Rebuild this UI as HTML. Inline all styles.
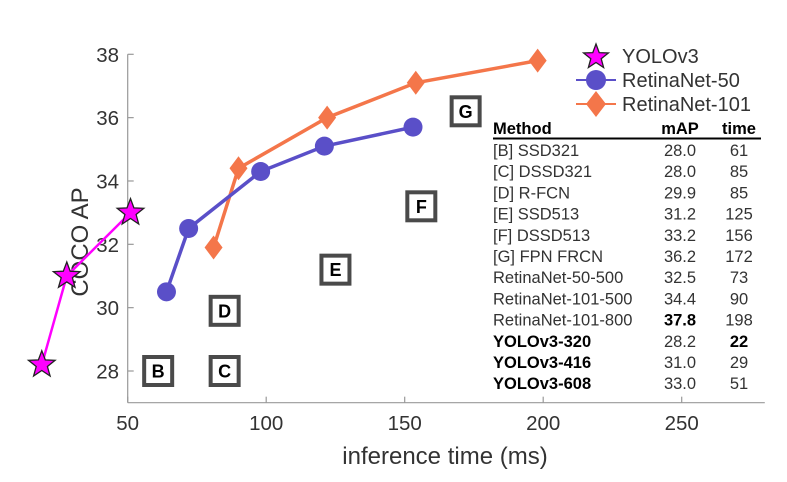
<!DOCTYPE html>
<html><head><meta charset="utf-8"><style>
html,body{margin:0;padding:0;background:#fff;}
svg text{font-family:"Liberation Sans",Arial,sans-serif;}
</style></head><body>
<svg id="chart" width="787" height="477" viewBox="0 0 787 477" xmlns="http://www.w3.org/2000/svg">
<g id="axes"></g>
<g id="boxes"></g>
<g id="series"></g>
<g id="legend"></g>
<g id="table"></g>
</svg>
<script>
const xTicks=[50,100,150,200,250];
const yTicks=[28,30,32,34,36,38];
const yoloTime=[19,28,51];
const yoloAP=[28.2,31.0,33.0];
const r50Time=[64,72,98,121,153];
const r50AP=[30.5,32.5,34.3,35.1,35.7];
const r101Time=[81,90,122,154,198];
const r101AP=[31.9,34.4,36.0,37.1,37.8];
const boxLabels=["B","C","D","E","F","G"];
const boxTime=[61,85,85,125,156,172];
const boxAP=[28.0,28.0,29.9,31.2,33.2,36.2];
const tableMethods=["[B] SSD321","[C] DSSD321","[D] R-FCN","[E] SSD513","[F] DSSD513","[G] FPN FRCN","RetinaNet-50-500","RetinaNet-101-500","RetinaNet-101-800","YOLOv3-320","YOLOv3-416","YOLOv3-608"];
const tableMAP=["28.0","28.0","29.9","31.2","33.2","36.2","32.5","34.4","37.8","28.2","31.0","33.0"];
const tableTime=["61","85","85","125","156","172","73","90","198","22","29","51"];

const NS="http://www.w3.org/2000/svg";
const X=v=>127.7+(v-50)*2.77;
const Y=v=>371-(v-28)*31.67;
function mk(tag,attrs,parent,txt){const e=document.createElementNS(NS,tag);for(const k in attrs)e.setAttribute(k,attrs[k]);if(txt!==undefined)e.textContent=txt;parent.appendChild(e);return e;}
const axes=document.getElementById('axes');
let e;
e=mk('line',{x1:X(50),y1:Y(27),x2:X(280),y2:Y(27),stroke:'#999','stroke-width':1.2},axes);

e=mk('line',{x1:X(50),y1:Y(27),x2:X(50),y2:Y(38),stroke:'#999','stroke-width':1.2},axes);

xTicks.forEach(t=>{
 mk('line',{x1:X(t),y1:Y(27),x2:X(t),y2:Y(27)-6,stroke:'#999','stroke-width':1.2},axes);
 e=mk('text',{x:X(t),y:430,'text-anchor':'middle','font-size':20.5,fill:'#333'},axes,t);
 
});
yTicks.forEach(t=>{
 mk('line',{x1:X(50),y1:Y(t),x2:X(50)+6,y2:Y(t),stroke:'#999','stroke-width':1.2},axes);
 e=mk('text',{x:119,y:Y(t)+7.5,'text-anchor':'end','font-size':20.5,fill:'#333'},axes,t);
 
});
e=mk('text',{x:445,y:464,'text-anchor':'middle','font-size':24,fill:'#333'},axes,'inference time (ms)');

e=mk('text',{x:0,y:0,'text-anchor':'middle','font-size':24,fill:'#333',transform:'translate(88,242) rotate(-90)'},axes,'COCO AP');


const boxes=document.getElementById('boxes');
boxLabels.forEach((l,i)=>{
 const g=mk('g',{},boxes);
 
 
 mk('rect',{x:X(boxTime[i])-14,y:Y(boxAP[i])-14,width:28,height:28,fill:'#fff',stroke:'#4a4a4a','stroke-width':4},g);
 mk('text',{x:X(boxTime[i]),y:Y(boxAP[i])+6.5,'text-anchor':'middle','font-size':18,'font-weight':'bold',fill:'#000'},g,l);
});

function star(cx,cy,R){const r=R*0.42;let p=[];for(let i=0;i<10;i++){const a=-Math.PI/2+i*Math.PI/5;const rr=i%2?r:R;p.push((cx+rr*Math.cos(a)).toFixed(1)+','+(cy+rr*Math.sin(a)).toFixed(1));}return p.join(' ');}
const series=document.getElementById('series');
function drawSeries(name,ts,vs,color,marker){
 const g=mk('g',{},series);
 
 mk('polyline',{points:ts.map((t,i)=>X(t)+','+Y(vs[i])).join(' '),fill:'none',stroke:color,'stroke-width':marker==='star'?2.5:3.5},g);
 ts.forEach((t,i)=>{
  const cx=X(t),cy=Y(vs[i]);let m;
  if(marker==='star')m=mk('polygon',{points:star(cx,cy,14),fill:color,stroke:'#222','stroke-width':1.3},g);
  else if(marker==='circle')m=mk('circle',{cx:cx,cy:cy,r:9.5,fill:color},g);
  else m=mk('polygon',{points:`${cx},${cy-12} ${cx+9},${cy} ${cx},${cy+12} ${cx-9},${cy}`,fill:color},g);
  
 });
}
drawSeries('retinanet-101-series',r101Time,r101AP,'#f4764a','diamond');
drawSeries('retinanet-50-series',r50Time,r50AP,'#5a4fc8','circle');
drawSeries('yolov3-series',yoloTime,yoloAP,'#ff00ff','star');

const legend=document.getElementById('legend');
const leg=[['YOLOv3','#ff00ff','star',62],['RetinaNet-50','#5a4fc8','circle',86],['RetinaNet-101','#f4764a','diamond',110]];
leg.forEach(([n,c,m,y])=>{
 const g=mk('g',{},legend);
 
 const cx=596;
 if(m==='star')mk('polygon',{points:star(cx,y-5,13),fill:c,stroke:'#222','stroke-width':1.3},g);
 else{mk('line',{x1:576,y1:y-6,x2:616,y2:y-6,stroke:c,'stroke-width':2},g);
  if(m==='circle')mk('circle',{cx:cx,cy:y-6,r:10,fill:c},g);
  else mk('polygon',{points:`${cx},${y-19} ${cx+10},${y-6} ${cx},${y+7} ${cx-10},${y-6}`,fill:c},g);}
 mk('text',{x:622,y:y+1,'font-size':20,fill:'#333'},g,n);
});

const table=document.getElementById('table');
mk('text',{x:493,y:134,'font-size':16.5,'font-weight':'bold',fill:'#000'},table,'Method');
mk('text',{x:680,y:134,'font-size':16.5,'font-weight':'bold','text-anchor':'middle',fill:'#000'},table,'mAP');
mk('text',{x:739,y:134,'font-size':16.5,'font-weight':'bold','text-anchor':'middle',fill:'#000'},table,'time');
mk('line',{x1:493,y1:138.5,x2:761,y2:138.5,stroke:'#000','stroke-width':2},table);
tableMethods.forEach((m,i)=>{
 const y=156+i*21.2;
 const g=mk('g',{},table);
 
 const yolo=i>=9;
 mk('text',{x:493,y:y,'font-size':16.5,'font-weight':yolo?'bold':'normal',fill:yolo?'#000':'#333'},g,m);
 mk('text',{x:680,y:y,'font-size':16.5,'text-anchor':'middle','font-weight':i===8?'bold':'normal',fill:i===8?'#000':'#333'},g,tableMAP[i]);
 mk('text',{x:739,y:y,'font-size':16.5,'text-anchor':'middle','font-weight':i===9?'bold':'normal',fill:i===9?'#000':'#333'},g,tableTime[i]);
});
</script>
</body></html>
